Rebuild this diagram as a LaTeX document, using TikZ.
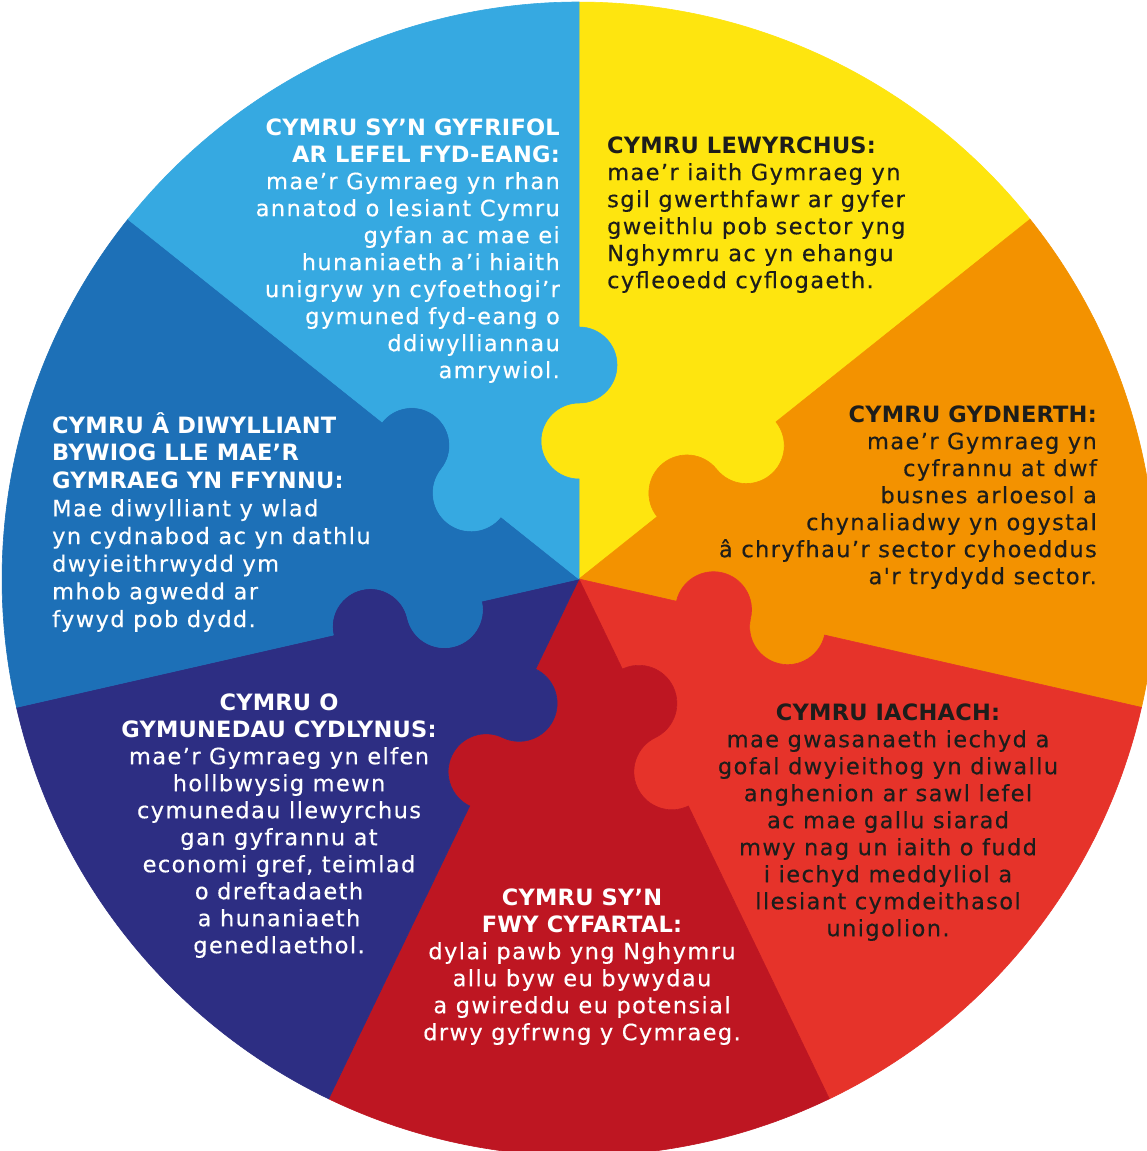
\documentclass[tikz,border=0pt]{standalone}
\usepackage{fontspec}
\newfontfamily\bodyfont{DejaVu Sans}[LetterSpace=6.2, FakeBold=0.35]
\newfontfamily\headfont{DejaVu Sans}[LetterSpace=1]
\definecolor{cyellow}{HTML}{FEE50F}
\definecolor{corange}{HTML}{F39200}
\definecolor{credorange}{HTML}{E6332A}
\definecolor{cdarkred}{HTML}{BE1622}
\definecolor{cnavy}{HTML}{2D2E83}
\definecolor{cmidblue}{HTML}{1D70B7}
\definecolor{clightblue}{HTML}{36A9E1}
\definecolor{cdark}{HTML}{1D1D1B}
\newcommand\hd[1]{{\headfont\bfseries #1}}
\newcommand\fs{\rule{0pt}{22pt}}
\lineskiplimit=-30pt
\begin{document}
\begin{tikzpicture}[x=1pt,y=1pt,
  blk/.style={inner sep=0pt, font=\bodyfont\fontsize{22.5}{27}\selectfont},
  wtxt/.style={blk, text=white},
  dtxt/.style={blk, text=cdark}]
\useasboundingbox (0,0) rectangle (1147,-1151);
\clip (0,0) rectangle (1147,-1151);
\fill[white] (0,0) rectangle (1147,-1151);
\foreach \col [count=\j from 0] in {cyellow,corange,credorange,cdarkred,cnavy,cmidblue,clightblue}{
  \pgfmathsetmacro\bcw{90-(\j+1)*360/7}
  \begin{scope}[shift={(579,-579)}, rotate=\bcw]
   \fill[\col, draw=\col, line width=0.6pt] (0,0) -- (100,0)
     .. controls (100,21) and (117,38) .. (138,38)
     .. controls (159,38) and (176,21) .. (176,0)
     .. controls (176,-21) and (193,-38) .. (214,-38)
     .. controls (235,-38) and (252,-21) .. (252,0)
     -- (577,0) arc[start angle=0, end angle=51.4286, radius=577]
     -- ([rotate=51.4286]252,0)
     .. controls ([rotate=51.4286]252,-21) and ([rotate=51.4286]235,-38) .. ([rotate=51.4286]214,-38)
     .. controls ([rotate=51.4286]193,-38) and ([rotate=51.4286]176,-21) .. ([rotate=51.4286]176,0)
     .. controls ([rotate=51.4286]176,21) and ([rotate=51.4286]159,38) .. ([rotate=51.4286]138,38)
     .. controls ([rotate=51.4286]117,38) and ([rotate=51.4286]100,21) .. ([rotate=51.4286]100,0)
     -- cycle;
  \end{scope}
}
% texts
\node[wtxt, anchor=north east, align=right] (lightblue) at (560,-113) {\fs\hd{CYMRU SY’N GYFRIFOL}\\\hd{AR LEFEL FYD-EANG:}\\mae’r Gymraeg yn rhan\\annatod o lesiant Cymru\\gyfan ac mae ei\\hunaniaeth a’i hiaith\\unigryw yn cyfoethogi’r\\gymuned fyd-eang o\\ddiwylliannau\\amrywiol.};
\node[dtxt, anchor=north west, align=left] (yellow) at (607,-131) {\fs\hd{CYMRU LEWYRCHUS:}\\mae’r iaith Gymraeg yn\\sgil gwerthfawr ar gyfer\\gweithlu pob sector yng\\Nghymru ac yn ehangu\\cyfleoedd cyflogaeth.};
\node[dtxt, anchor=north east, align=right] (orange) at (1097,-400) {\fs\hd{CYMRU GYDNERTH:}\\mae’r Gymraeg yn\\cyfrannu at dwf\\busnes arloesol a\\chynaliadwy yn ogystal\\â chryfhau’r sector cyhoeddus\\a'r trydydd sector.};
\node[dtxt, anchor=north, align=center] (redorange) at (888,-698) {\fs\hd{CYMRU IACHACH:}\\mae gwasanaeth iechyd a\\gofal dwyieithog yn diwallu\\anghenion ar sawl lefel\\ac mae gallu siarad\\mwy nag un iaith o fudd\\i iechyd meddyliol a\\llesiant cymdeithasol\\unigolion.};
\node[wtxt, anchor=north, align=center] (darkred) at (582,-883) {\fs\hd{CYMRU SY’N}\\\hd{FWY CYFARTAL:}\\dylai pawb yng Nghymru\\allu byw eu bywydau\\a gwireddu eu potensial\\drwy gyfrwng y Cymraeg.};
\node[wtxt, anchor=north, align=center] (navy) at (279,-688) {\fs\hd{CYMRU O}\\\hd{GYMUNEDAU CYDLYNUS:}\\mae’r Gymraeg yn elfen\\hollbwysig mewn\\cymunedau llewyrchus\\gan gyfrannu at\\economi gref, teimlad\\o dreftadaeth\\a hunaniaeth\\genedlaethol.};
\node[wtxt, anchor=north west, align=left, font=\bodyfont\fontsize{22.5}{27.7}\selectfont] (midblue) at (52,-411) {\fs\hd{CYMRU Â DIWYLLIANT}\\\hd{BYWIOG LLE MAE’R}\\\hd{GYMRAEG YN FFYNNU:}\\Mae diwylliant y wlad\\yn cydnabod ac yn dathlu\\dwyieithrwydd ym\\mhob agwedd ar\\fywyd pob dydd.};
\end{tikzpicture}
\end{document}
